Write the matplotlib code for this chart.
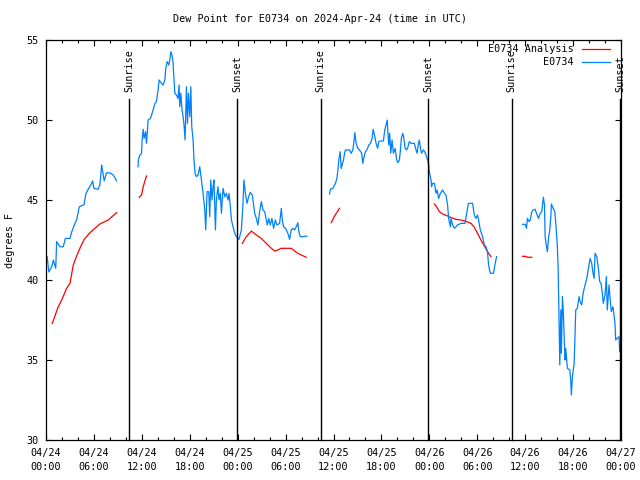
import numpy as np
import matplotlib
matplotlib.use("Agg")
import matplotlib.pyplot as plt
import matplotlib.dates as mdates
import matplotlib.transforms as mtransforms

# hours after 2024-04-24 00:00 UTC
START = np.datetime64("2024-04-24T00:00")

obs_h1 = [0.15, 0.35, 0.71, 0.91, 1.21, 1.34, 1.75, 2.16, 2.41, 3.0, 3.21, 3.63,
          3.84, 4.16, 4.75, 5.0, 5.29, 5.71, 5.84, 6.0, 6.54, 6.75, 6.88, 6.96,
          7.16, 7.29, 7.59, 8.0, 8.41, 8.84]
obs_v1 = [41.45, 40.5, 40.83, 41.25, 40.73, 42.4, 42.08, 42.08, 42.6, 42.6, 43.0, 43.54,
          43.75, 44.58, 44.7, 45.4, 45.67, 46.04, 46.2, 45.73, 45.67, 45.94, 46.7, 47.19,
          46.56, 46.2, 46.7, 46.7, 46.56, 46.2]

obs_h2 = [11.54, 11.56, 11.75, 11.96, 12.04, 12.16, 12.29, 12.46, 12.59, 12.71, 12.79,
          13.09, 13.21, 13.41, 13.63, 13.84, 14.04, 14.16, 14.46, 14.66, 14.88, 15.0,
          15.16, 15.38, 15.5, 15.63, 15.79, 15.91, 16.04, 16.13, 16.34, 16.54, 16.66,
          16.75, 16.88, 17.04, 17.16, 17.29, 17.41, 17.59, 17.71, 17.84, 18.0, 18.13,
          18.25, 18.41, 18.54, 18.66, 18.84, 19.04, 19.25, 19.46, 19.66, 19.88, 20.0,
          20.16, 20.38, 20.5, 20.63, 20.79, 20.91, 21.04, 21.21, 21.34, 21.54, 21.66,
          21.84, 21.96, 22.16, 22.38, 22.59, 22.79, 22.91, 23.09, 23.21, 23.41, 23.63,
          23.84, 24.16, 24.46, 24.66, 24.79, 24.96, 25.16, 25.38, 25.59, 25.84, 26.13,
          26.34, 26.54, 26.75, 26.96, 27.16, 27.38, 27.59, 27.71, 27.88, 28.09, 28.29,
          28.5, 28.71, 28.91, 29.25, 29.46, 29.59, 29.75, 30.0, 30.29, 30.5, 30.71,
          30.91, 31.13, 31.34, 31.54, 31.66, 31.84, 32.25, 32.66]
obs_v2 = [47.08, 47.5, 47.81, 47.92, 48.75, 49.42, 48.85, 49.27, 48.54, 49.48, 50.0,
          50.1, 50.31, 50.63, 51.04, 51.15, 51.88, 52.5, 52.29, 52.19, 52.5, 53.23,
          53.65, 53.44, 53.75, 54.27, 54.06, 53.54, 52.5, 51.67, 51.56, 51.35, 52.19,
          50.83, 51.67, 50.63, 50.21, 49.69, 48.75, 52.08, 49.79, 51.67, 50.21, 52.08,
          49.58, 48.75, 47.5, 46.67, 46.46, 46.56, 47.08, 46.25, 45.42, 44.38, 43.13,
          45.52, 45.52, 43.96, 46.25, 45.0, 45.83, 46.25, 43.13, 45.0, 45.83, 45.0,
          45.42, 44.17, 45.73, 45.21, 45.42, 45.0, 45.42, 44.58, 43.75, 43.33, 42.92,
          42.71, 42.54, 43.13, 44.79, 46.25, 45.42, 44.79, 45.21, 45.48, 45.31, 44.17,
          43.85, 43.44, 44.27, 44.9, 44.38, 44.27, 43.75, 43.44, 43.85, 43.44, 43.85,
          43.23, 43.75, 43.44, 43.54, 44.48, 43.75, 43.33, 43.23, 42.92, 42.54, 43.13,
          43.23, 43.13, 43.33, 43.58, 43.02, 42.71, 42.71, 42.75]

obs_h3 = [35.5, 35.63, 35.91, 36.13, 36.25, 36.41, 36.54, 36.66, 36.84, 36.96, 37.09,
          37.25, 37.38, 37.5, 38.0, 38.21, 38.41, 38.54, 38.66, 38.84, 39.04, 39.25,
          39.54, 39.66, 39.79, 40.0, 40.21, 40.41, 40.63, 40.84, 40.96, 41.13, 41.34,
          41.54, 41.66, 41.84, 42.25, 42.41, 42.59, 42.71, 42.84, 42.91, 43.04, 43.16,
          43.34, 43.5, 43.71, 43.91, 44.09, 44.25, 44.38, 44.5, 44.66, 44.79, 44.96,
          45.16, 45.34, 45.5, 45.71, 46.13, 46.34, 46.46, 46.63, 46.75, 46.88, 47.04,
          47.25, 47.41, 47.59, 47.79, 47.91, 48.0, 48.21, 48.29, 48.41, 48.63, 48.84,
          48.96, 49.16, 49.38, 49.66, 49.88, 50.09, 50.29, 50.41, 50.63, 50.71, 50.91,
          51.13, 51.34, 51.54, 51.96, 52.46, 52.71, 52.88, 53.41, 53.63, 53.84, 54.04,
          54.16, 54.38, 54.66, 54.88, 55.09, 55.29, 55.41, 55.63, 56.04, 56.21, 56.41]
obs_v3 = [45.38, 45.69, 45.73, 45.94, 46.04, 46.35, 46.77, 47.5, 48.02, 46.98, 47.19,
          47.5, 47.92, 48.13, 48.13, 47.92, 48.13, 48.54, 49.21, 48.54, 48.23, 48.13,
          47.92, 47.29, 47.6, 48.02, 48.17, 48.44, 48.54, 48.85, 49.42, 49.06, 48.54,
          48.23, 48.65, 48.69, 48.69, 49.38, 49.69, 50.0, 49.06, 48.44, 49.17, 47.92,
          48.75, 47.92, 48.23, 47.5, 47.33, 47.5, 48.13, 48.85, 49.17, 48.96, 48.23,
          48.13, 48.33, 48.65, 48.54, 48.54, 48.13, 47.92, 48.54, 48.75, 48.23, 47.92,
          48.13, 48.02, 47.81, 47.5, 47.19, 46.77, 46.25, 45.83, 46.04, 46.04, 45.42,
          45.63, 45.1, 45.42, 45.63, 45.42, 45.31, 44.69, 43.85, 43.33, 43.85, 43.44,
          43.23, 43.33, 43.44, 43.54, 43.54, 44.27, 44.79, 44.79, 44.06, 43.85, 44.06,
          43.75, 43.13, 42.71, 42.19, 42.08, 41.77, 40.94, 40.42, 40.42, 40.94, 41.46]

obs_h4 = [59.66, 60.0, 60.16, 60.29, 60.5, 60.63, 60.84, 61.0, 61.25, 61.41, 61.66,
          61.88, 62.09, 62.16, 62.29, 62.41, 62.5, 62.66, 62.79, 62.91, 63.09, 63.21,
          63.29, 63.5, 63.71, 63.84, 64.04, 64.13, 64.25, 64.34, 64.46, 64.54, 64.66,
          64.79, 64.91, 65.0, 65.09, 65.29, 65.59, 65.71, 65.79, 65.91, 66.13, 66.25,
          66.34, 66.54, 66.75, 66.88, 67.09, 67.25, 67.5, 67.71, 67.91, 68.13, 68.34,
          68.5, 68.63, 68.75, 68.96, 69.16, 69.34, 69.5, 69.66, 69.79, 70.0, 70.16,
          70.29, 70.5, 70.63, 70.79, 71.0, 71.25, 71.34, 71.54, 71.75, 71.84]
obs_v4 = [43.48, 43.48, 43.23, 43.85, 43.65, 43.75, 44.27, 44.38, 44.42, 44.17, 43.85,
          44.17, 44.27, 44.69, 45.17, 44.69, 42.71, 42.08, 41.77, 42.6, 43.13, 43.96,
          44.75, 44.48, 44.27, 43.54, 42.08, 40.63, 37.29, 34.69, 38.13, 35.42, 38.96,
          37.92, 35.94, 35.0, 35.73, 34.48, 34.38, 33.65, 32.81, 33.96, 34.79, 36.67,
          38.13, 38.23, 38.96, 38.65, 38.44, 39.17, 39.69, 40.1, 40.73, 41.35, 41.04,
          40.42, 40.1, 41.67, 41.46, 40.73, 39.9, 39.79, 39.17, 38.54, 39.06, 40.21,
          38.13, 39.69, 38.85, 38.02, 38.33, 37.29, 36.25, 36.35, 36.46, 35.52]

ana_h1 = [0.79, 1.54, 1.96, 2.59, 3.0, 3.41, 3.84, 4.34, 4.79, 5.5, 6.13, 6.75, 7.79, 8.84]
ana_v1 = [37.29, 38.33, 38.75, 39.48, 39.79, 40.94, 41.5, 42.08, 42.54, 42.96, 43.23,
          43.5, 43.75, 44.21]
ana_h2 = [11.66, 11.96, 12.16, 12.59]
ana_v2 = [45.17, 45.31, 45.83, 46.5]
ana_h3 = [24.58, 25.09, 25.71, 26.34, 26.96, 27.59, 28.21, 28.63, 29.04, 29.46, 30.09,
          30.71, 31.13, 31.54, 31.96, 32.59]
ana_v3 = [42.29, 42.71, 43.06, 42.81, 42.6, 42.29, 41.98, 41.81, 41.88, 41.98, 41.98,
          41.98, 41.81, 41.67, 41.56, 41.42]
ana_h4 = [35.71, 36.13, 36.75]
ana_v4 = [43.58, 44.0, 44.48]
ana_h5 = [48.63, 48.91, 49.25, 49.66, 50.29, 50.71, 51.34, 51.96, 52.59, 53.21, 53.63,
          54.04, 54.46, 54.88, 55.29, 55.71]
ana_v5 = [44.75, 44.58, 44.27, 44.13, 44.0, 43.9, 43.79, 43.75, 43.67, 43.54, 43.29,
          42.92, 42.5, 42.13, 41.77, 41.46]
ana_h6 = [59.66, 60.09, 60.29, 60.84]
ana_v6 = [41.48, 41.48, 41.42, 41.42]

sunrise_h = [10.40, 34.42, 58.33]
sunset_h = [23.92, 47.83, 71.90]

obs_segments = [(obs_h1, obs_v1), (obs_h2, obs_v2), (obs_h3, obs_v3), (obs_h4, obs_v4)]
ana_segments = [(ana_h1, ana_v1), (ana_h2, ana_v2), (ana_h3, ana_v3),
                (ana_h4, ana_v4), (ana_h5, ana_v5), (ana_h6, ana_v6)]


def to_time(hours):
    mins = np.round(np.asarray(hours) * 60).astype("int64")
    return START + mins.astype("timedelta64[m]")


FONT = "DejaVu Sans Mono"
FS = 7.3
plt.rcParams["font.family"] = FONT
plt.rcParams["font.size"] = FS

fig = plt.figure(figsize=(6.4, 4.8), dpi=100)
ax = fig.add_axes([46 / 640, 40 / 480, 575 / 640, 400 / 480])

for h, v in ana_segments:
    ax.plot(to_time(h), v, color="#ff0000", lw=0.9)
for h, v in obs_segments:
    ax.plot(to_time(h), v, color="#0080ff", lw=0.9)

trans = mtransforms.blended_transform_factory(ax.transData, ax.transAxes)
for name, hours in (("Sunrise", sunrise_h), ("Sunset", sunset_h)):
    for t in to_time(hours):
        ax.plot([t, t], [0, 0.8525], color="black", lw=1.0, transform=trans, clip_on=False)
        ax.text(t, 0.87, name, rotation=90, ha="center", va="bottom",
                transform=trans, fontsize=FS)

ax.set_xlim(to_time([0])[0], to_time([72])[0])
ax.set_ylim(30, 55)
ax.set_yticks([30, 35, 40, 45, 50, 55])
ax.xaxis.set_major_locator(mdates.HourLocator(byhour=[0, 6, 12, 18]))
ax.xaxis.set_minor_locator(mdates.HourLocator(byhour=range(0, 24, 2)))
ax.xaxis.set_major_formatter(mdates.DateFormatter("%m/%d\n%H:%M"))
ax.tick_params(which="both", direction="in", top=True, right=True, width=0.8,
               labelsize=FS, colors="black")
ax.tick_params(which="major", length=4)
ax.tick_params(which="minor", length=2.2)
ax.tick_params(axis="x", pad=6)
ax.tick_params(axis="y", pad=5)
for lab in ax.get_xticklabels():
    lab.set_linespacing(1.45)
for s in ax.spines.values():
    s.set_linewidth(0.9)

# legend drawn gnuplot-style: right-aligned text with sample line on the right
ax.text(0.918, 0.9775, "E0734 Analysis", ha="right", va="center",
        transform=ax.transAxes, fontsize=FS)
ax.plot([0.932, 0.98], [0.9775, 0.9775], color="#ff0000", lw=0.9,
        transform=ax.transAxes, clip_on=False)
ax.text(0.918, 0.944, "E0734", ha="right", va="center",
        transform=ax.transAxes, fontsize=FS)
ax.plot([0.932, 0.98], [0.944, 0.944], color="#0080ff", lw=0.9,
        transform=ax.transAxes, clip_on=False)

fig.text(0.5, 1 - 19 / 480, "Dew Point for E0734 on 2024-Apr-24 (time in UTC)",
         ha="center", va="center", fontsize=FS)
fig.text(10 / 640, 0.5, "degrees F", rotation=90, ha="center", va="center", fontsize=FS)

fig.savefig("out.png", dpi=100)
